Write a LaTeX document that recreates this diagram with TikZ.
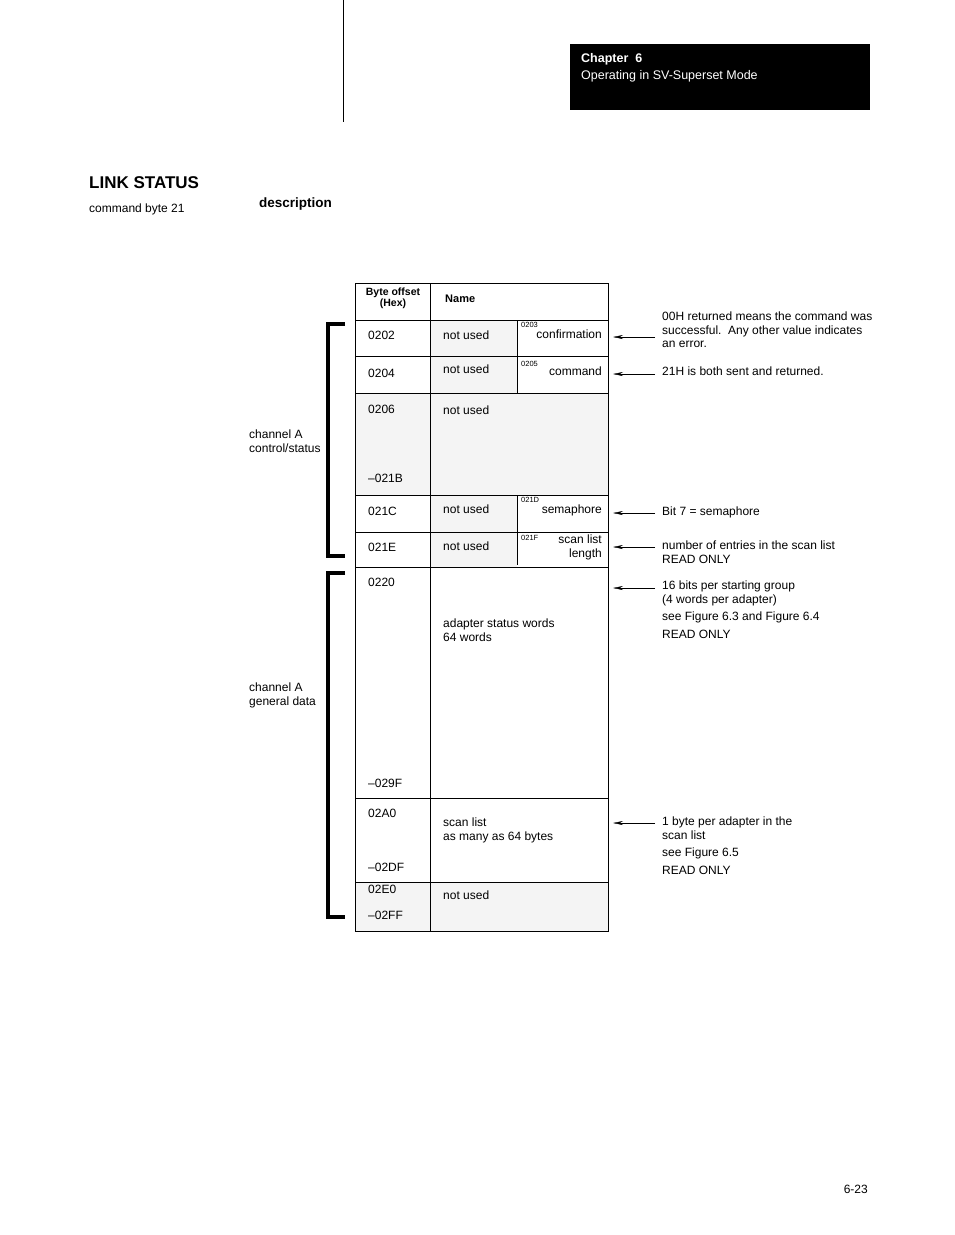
\documentclass[tikz,border=0pt]{standalone}
\usepackage{fontspec}
\setmainfont{Liberation Sans}
\usetikzlibrary{positioning,arrows.meta}
\definecolor{cellgray}{RGB}{244,244,244}
\tikzset{
  txt/.style={inner sep=0pt,anchor=north west,align=left,font=\fontsize{12}{13.5}\selectfont},
  tiny/.style={inner sep=0pt,anchor=north west,font=\fontsize{7.5}{8}\selectfont},
  note/.style={inner sep=0pt,anchor=north west,align=left,font=\fontsize{12}{13.5}\selectfont},
  pointer/.style={-{Stealth[length=10pt,width=4pt]},thin},
  brace/.style={line width=4pt}
}
\begin{document}
\begin{tikzpicture}[x=1pt,y=-1pt]
\useasboundingbox (0,0) rectangle (954,1235);
% page heading
\draw[thick] (343,0) -- (343,122);
\fill (570,44) rectangle (870,110);
\node[txt,white,font=\fontsize{12.5}{17.5}\selectfont] (chap) at (581,53) {\textbf{Chapter\ \ 6}\\Operating in SV-Superset Mode};
\node[txt,font=\fontsize{17}{19}\selectfont\bfseries] (title) at (89,176) {LINK STATUS};
\node[txt] (cmd) at (89,204) {command byte 21};
\node[txt,font=\fontsize{13.5}{15}\selectfont\bfseries] (desc) at (259,198) {description};
% shaded cells
\fill[cellgray] (430,320) rectangle (517,393);
\fill[cellgray] (355,393) rectangle (608,495);
\fill[cellgray] (430,495) rectangle (517,567);
\fill[cellgray] (355,882) rectangle (608,931);
% table grid
\draw (355,283) rectangle (608,931);
\draw (430,283) -- (430,931);
\foreach \y in {320,356,393,495,532,567,798,882}
  \draw (355,\y) -- (608,\y);
\draw (517,320) -- (517,393);
\draw (517,495) -- (517,565);
% header
\node[txt,anchor=north,font=\fontsize{10.5}{11}\selectfont\bfseries,align=center] (hoff) at (393,288) {Byte offset\\(Hex)};
\node[txt,font=\fontsize{11}{12}\selectfont\bfseries] (hname) at (445,295) {Name};
% offsets
\node[txt] (o202) at (368,331) {0202};
\node[txt] (o204) at (368,369) {0204};
\node[txt] (o206) at (368,405) {0206};
\node[txt] (o21b) at (368,474) {--021B};
\node[txt] (o21c) at (368,507) {021C};
\node[txt] (o21e) at (368,543) {021E};
\node[txt] (o220) at (368,578) {0220};
\node[txt] (o29f) at (368,779) {--029F};
\node[txt] (o2a0) at (368,809) {02A0};
\node[txt] (o2df) at (368,863) {--02DF};
\node[txt] (o2e0) at (368,885) {02E0};
\node[txt] (o2ff) at (368,911) {--02FF};
% names
\node[txt] (n1) at (443,331) {not used};
\node[txt] (n2) at (443,365) {not used};
\node[txt] (n3) at (443,406) {not used};
\node[txt] (n4) at (443,505) {not used};
\node[txt] (n5) at (443,542) {not used};
\node[txt] (n6) at (443,619) {adapter status words\\64 words};
\node[txt] (n7) at (443,818) {scan list\\as many as 64 bytes};
\node[txt] (n8) at (443,891) {not used};
\node[tiny] (s203) at (521,322) {0203};
\node[tiny] (s205) at (521,361) {0205};
\node[tiny] (s21d) at (521,497) {021D};
\node[tiny] (s21f) at (521,535) {021F};
\node[txt,anchor=north east] (conf) at (602,330) {confirmation};
\node[txt,anchor=north east] (comm) at (602,367) {command};
\node[txt,anchor=north east] (sema) at (602,505) {semaphore};
\node[txt,anchor=north east,align=right] (slen) at (602,535) {scan list\\length};
% brackets
\draw[brace] (345,324) -| (328,556) -- (345,556);
\draw[brace] (345,573) -| (328,917) -- (345,917);
\node[txt] (chctl) at (249,430) {channel A\\control/status};
\node[txt] (chgen) at (249,683) {channel A\\general data};
% notes
\node[note] (d1) at (662,312) {00H returned means the command was\\successful.\ \ Any other value indicates\\an error.};
\node[note] (d2) at (662,367) {21H is both sent and returned.};
\node[note] (d3) at (662,507) {Bit 7 = semaphore};
\node[note] (d4) at (662,541) {number of entries in the scan list\\READ ONLY};
\node[note] (d5) at (662,581) {16 bits per starting group\\(4 words per adapter)\\[4pt]see Figure 6.3 and Figure 6.4\\[4pt]READ ONLY};
\node[note] (d6) at (662,817) {1 byte per adapter in the\\scan list\\[4pt]see Figure 6.5\\[4pt]READ ONLY};
\foreach \y/\n in {337/1,374/2,513/3,547/4,588/5,823/6} {
  \coordinate (t\n) at (655,\y);
  \coordinate (h\n) at (613,\y);
  \draw[pointer] (t\n) -- (h\n);
}
\node[txt,anchor=north east] (pg) at (868,1185) {6-23};
\end{tikzpicture}
\end{document}
